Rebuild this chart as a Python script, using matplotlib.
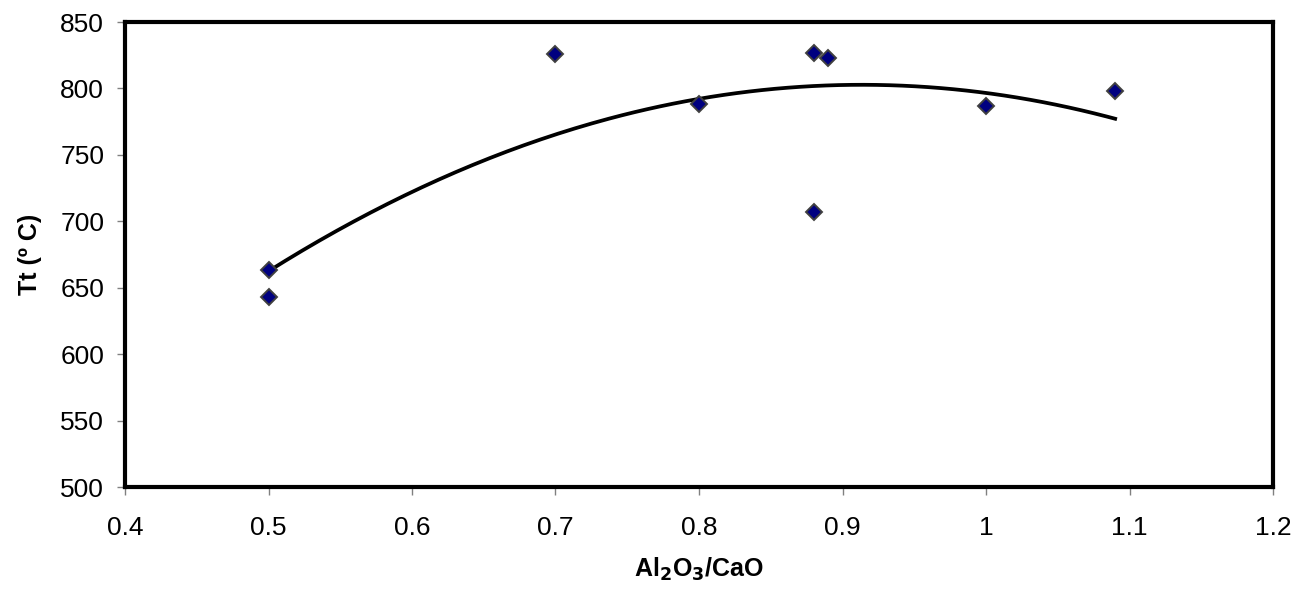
import numpy as np
import matplotlib
matplotlib.use("Agg")
import matplotlib.pyplot as plt

# ---- data ----
ratio = [0.50, 0.50, 0.70, 0.80, 0.88, 0.89, 0.88, 1.00, 1.09]   # Al2O3/CaO
tt = [663, 643, 826, 788, 827, 823, 707, 787, 798]                 # Tt (deg C)
x_ticks = [0.4, 0.5, 0.6, 0.7, 0.8, 0.9, 1.0, 1.1, 1.2]
x_tick_labels = ["0.4", "0.5", "0.6", "0.7", "0.8", "0.9", "1", "1.1", "1.2"]
y_ticks = [500, 550, 600, 650, 700, 750, 800, 850]

plt.rcParams["font.family"] = ["Liberation Sans", "DejaVu Sans"]

W, H = 1308, 595
fig = plt.figure(figsize=(W / 100, H / 100), dpi=100)
fig.subplots_adjust(left=125 / W, right=1273 / W, top=1 - 22 / H, bottom=1 - 487 / H)
ax = fig.add_subplot(111)

# 2nd-order polynomial trendline (Excel style), over the data range
coef = np.polyfit(ratio, tt, 2)
xs = np.linspace(min(ratio), max(ratio), 200)
ax.plot(xs, np.polyval(coef, xs), color="black", lw=2.7, zorder=2)

ax.plot(ratio, tt, "D", ms=8.3, mfc="#000080", mec="#404040", mew=1.4,
        ls="none", zorder=3)

ax.set_xlim(0.4, 1.2)
ax.set_ylim(500, 850)
ax.set_xticks(x_ticks)
ax.set_xticklabels(x_tick_labels)
ax.set_yticks(y_ticks)

for s in ax.spines.values():
    s.set_linewidth(3)
    s.set_color("black")

ax.tick_params(axis="both", direction="out", length=6, width=1, color="#808080",
               labelsize=19)
ax.tick_params(axis="x", pad=15)
ax.tick_params(axis="y", pad=9)

ax.set_xlabel(r"Al$_\mathbf{2}$O$_\mathbf{3}$/CaO", fontsize=18, fontweight="bold",
              labelpad=11)
ax.set_ylabel("Tt (º C)", fontsize=18, fontweight="bold", labelpad=13)

fig.savefig("out.png", dpi=100)
